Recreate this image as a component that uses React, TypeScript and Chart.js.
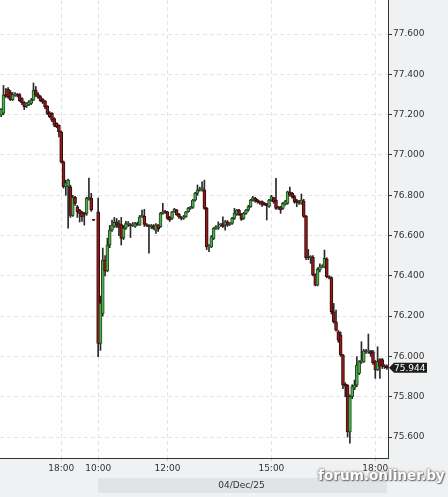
import React, { useEffect, useRef } from 'react';
import { Chart, registerables } from 'chart.js';
Chart.register(...registerables);

// 4-minute candles; index 41 is the overnight gap
const OPEN: (number | null)[] = [
  77.198, 77.207, 77.300, 77.326, 77.310, 77.274, 77.297, 77.300, 77.300, 77.280,
  77.260, 77.243, 77.248, 77.256, 77.272, 77.322, 77.300, 77.290, 77.276, 77.268,
  77.243, 77.209, 77.206, 77.180, 77.157, 77.148, 77.115, 76.966, 76.842, 76.842,
  76.842, 76.700, 76.790, 76.743, 76.727, 76.718, 76.710, 76.710, 76.780, 76.785,
  76.678, null,
  76.718, 76.065, 76.214, 76.478, 76.425, 76.553, 76.627, 76.645, 76.668, 76.660,
  76.655, 76.590, 76.636, 76.655, 76.652, 76.652, 76.645, 76.660, 76.652, 76.693,
  76.695, 76.655, 76.648, 76.645, 76.648, 76.625, 76.652, 76.644, 76.710, 76.718,
  76.718, 76.690, 76.685, 76.718, 76.728, 76.705, 76.690, 76.685, 76.693, 76.718,
  76.735, 76.740, 76.776, 76.809, 76.826, 76.826, 76.826, 76.735, 76.544, 76.544,
  76.586, 76.636, 76.636, 76.652, 76.660, 76.652, 76.668, 76.655, 76.660, 76.685,
  76.705, 76.727, 76.705, 76.685, 76.710, 76.727, 76.743, 76.776, 76.785, 76.776,
  76.768, 76.768, 76.760, 76.755, 76.745, 76.776, 76.788, 76.776, 76.740, 76.743,
  76.735, 76.755, 76.760,
  76.817, 76.810, 76.793, 76.773, 76.768, 76.760, 76.771, 76.697, 76.495, 76.492,
  76.492, 76.407, 76.354, 76.430, 76.445, 76.442, 76.483, 76.396, 76.392, 76.222,
  76.172, 76.122, 76.106, 76.007, 75.863, 75.858, 75.626, 75.800, 75.842, 75.858,
  75.916, 75.974, 75.974, 76.028, 76.023, 76.028, 76.023, 75.974, 75.933, 75.985,
  75.985, 75.954, 75.954,
];

const CLOSE: (number | null)[] = [
  77.226, 77.297, 77.292, 77.289, 77.274, 77.300, 77.302, 77.296, 77.270, 77.259,
  77.239, 77.257, 77.264, 77.272, 77.322, 77.297, 77.285, 77.270, 77.262, 77.239,
  77.206, 77.190, 77.173, 77.148, 77.140, 77.115, 76.966, 76.842, 76.862, 76.875,
  76.700, 76.790, 76.760, 76.718, 76.710, 76.693, 76.705, 76.785, 76.790, 76.727,
  76.676, null,
  76.065, 76.264, 76.478, 76.425, 76.553, 76.627, 76.652, 76.665, 76.652, 76.640,
  76.586, 76.636, 76.660, 76.662, 76.648, 76.655, 76.660, 76.655, 76.693, 76.700,
  76.655, 76.650, 76.644, 76.647, 76.635, 76.652, 76.632, 76.710, 76.718, 76.715,
  76.685, 76.676, 76.718, 76.730, 76.702, 76.693, 76.685, 76.693, 76.718, 76.735,
  76.740, 76.776, 76.809, 76.826, 76.830, 76.837, 76.735, 76.544, 76.548, 76.594,
  76.636, 76.644, 76.640, 76.655, 76.645, 76.668, 76.652, 76.660, 76.685, 76.710,
  76.727, 76.702, 76.680, 76.710, 76.727, 76.743, 76.776, 76.788, 76.772, 76.768,
  76.762, 76.751, 76.755, 76.748, 76.776, 76.793, 76.768, 76.735, 76.738, 76.727,
  76.760, 76.768, 76.817,
  76.800, 76.793, 76.768, 76.765, 76.764, 76.776, 76.695, 76.490, 76.490, 76.495,
  76.405, 76.354, 76.432, 76.445, 76.449, 76.487, 76.396, 76.392, 76.222, 76.172,
  76.131, 76.081, 76.007, 75.858, 75.853, 75.626, 75.800, 75.850, 75.858, 75.957,
  75.974, 75.982, 76.028, 76.023, 76.028, 76.015, 75.969, 75.933, 75.974, 75.950,
  75.955, 75.949, 75.944,
];

const HIGH: (number | null)[] = [
  77.230, 77.345, 77.330, 77.334, 77.320, 77.310, 77.310, 77.305, 77.305, 77.285,
  77.265, 77.260, 77.270, 77.280, 77.357, 77.340, 77.310, 77.295, 77.280, 77.270,
  77.245, 77.215, 77.210, 77.185, 77.160, 77.150, 77.120, 76.970, 76.875, 76.880,
  76.850, 76.800, 76.795, 76.750, 76.730, 76.720, 76.715, 76.790, 76.885, 76.810,
  76.680, null,
  76.786, 76.300, 76.538, 76.500, 76.587, 76.650, 76.677, 76.690, 76.685, 76.675,
  76.690, 76.650, 76.670, 76.670, 76.660, 76.665, 76.665, 76.667, 76.700, 76.727,
  76.730, 76.660, 76.655, 76.655, 76.655, 76.660, 76.655, 76.715, 76.760, 76.725,
  76.720, 76.695, 76.720, 76.735, 76.730, 76.710, 76.695, 76.700, 76.720, 76.740,
  76.745, 76.780, 76.815, 76.851, 76.840, 76.867, 76.875, 76.740, 76.555, 76.600,
  76.640, 76.650, 76.668, 76.660, 76.693, 76.675, 76.675, 76.665, 76.690, 76.735,
  76.730, 76.730, 76.710, 76.715, 76.730, 76.750, 76.780, 76.795, 76.790, 76.780,
  76.772, 76.772, 76.765, 76.760, 76.780, 76.800, 76.790, 76.884, 76.745, 76.745,
  76.765, 76.775, 76.820,
  76.840, 76.815, 76.800, 76.780, 76.775, 76.806, 76.780, 76.700, 76.531, 76.500,
  76.500, 76.410, 76.440, 76.460, 76.455, 76.528, 76.490, 76.400, 76.395, 76.263,
  76.230, 76.130, 76.122, 76.010, 75.870, 75.860, 75.810, 75.860, 75.883, 75.999,
  75.980, 76.073, 76.035, 76.035, 76.111, 76.030, 76.030, 75.980, 76.048, 75.990,
  75.990, 75.960, 75.958,
];

const LOW: (number | null)[] = [
  77.190, 77.200, 77.285, 77.280, 77.270, 77.270, 77.290, 77.288, 77.265, 77.250,
  77.225, 77.235, 77.245, 77.250, 77.270, 77.290, 77.280, 77.265, 77.255, 77.230,
  77.200, 77.185, 77.165, 77.140, 77.135, 77.090, 76.960, 76.835, 76.800, 76.637,
  76.690, 76.695, 76.750, 76.690, 76.667, 76.670, 76.652, 76.700, 76.775, 76.720,
  76.674, null,
  75.999, 76.030, 76.200, 76.400, 76.420, 76.540, 76.620, 76.640, 76.640, 76.600,
  76.553, 76.580, 76.630, 76.645, 76.590, 76.645, 76.640, 76.650, 76.650, 76.690,
  76.645, 76.645, 76.512, 76.635, 76.630, 76.610, 76.620, 76.640, 76.705, 76.710,
  76.680, 76.670, 76.680, 76.715, 76.700, 76.685, 76.677, 76.680, 76.690, 76.715,
  76.730, 76.735, 76.770, 76.800, 76.820, 76.820, 76.730, 76.530, 76.520, 76.540,
  76.580, 76.630, 76.630, 76.645, 76.640, 76.627, 76.645, 76.650, 76.655, 76.680,
  76.700, 76.700, 76.675, 76.680, 76.705, 76.720, 76.740, 76.770, 76.765, 76.760,
  76.755, 76.745, 76.750, 76.677, 76.740, 76.770, 76.760, 76.730, 76.730, 76.710,
  76.730, 76.750, 76.755,
  76.795, 76.785, 76.760, 76.743, 76.755, 76.755, 76.690, 76.480, 76.480, 76.462,
  76.400, 76.350, 76.350, 76.420, 76.440, 76.440, 76.390, 76.385, 76.210, 76.165,
  76.125, 76.070, 76.000, 75.840, 75.800, 75.600, 75.569, 75.790, 75.835, 75.850,
  75.910, 75.965, 75.970, 76.015, 76.015, 76.000, 75.960, 75.891, 75.930, 75.891,
  75.940, 75.940, 75.935,
];

const X_TICK_INDEX = [26, 42, 72, 117, 162];
const X_TICK_LABELS = ['18:00', '10:00', '12:00', '15:00', '18:00'];
const Y_TICKS = [75.6, 75.8, 76.0, 76.2, 76.4, 76.6, 76.8, 77.0, 77.2, 77.4, 77.6];
const Y_MIN = 75.496;
const Y_MAX = 77.769;
const LAST_PRICE = 75.944;
const DATE_LABEL = '04/Dec/25';
const WATERMARK = 'forum.onliner.by';

const FONT = "'DejaVu Sans', sans-serif";

export default function App() {
  const ref = useRef<HTMLCanvasElement | null>(null);

  useEffect(() => {
    document.body.style.margin = '0';
    const canvas = ref.current;
    if (!canvas) return;
    const labels = OPEN.map((_, i) => String(i));
    const up = OPEN.map((o, i) => o != null && (CLOSE[i] as number) >= o);

    const bgPlugin = {
      id: 'bg',
      beforeDraw(chart: any) {
        const { ctx, chartArea } = chart;
        ctx.save();
        ctx.fillStyle = '#f0f1f3';
        ctx.fillRect(0, 0, chart.width, chart.height);
        ctx.fillStyle = '#e2e3e6';
        ctx.fillRect(98, 478, 289, 15);
        ctx.fillStyle = '#ffffff';
        ctx.fillRect(chartArea.left, chartArea.top, chartArea.right - chartArea.left, chartArea.bottom - chartArea.top);
        ctx.restore();
      },
    };

    const pricePlugin = {
      id: 'lastPrice',
      afterDraw(chart: any) {
        const { ctx } = chart;
        const y = chart.scales.y.getPixelForValue(LAST_PRICE);
        const x0 = chart.chartArea.right + 1;
        ctx.save();
        ctx.fillStyle = '#1c1c1c';
        ctx.beginPath();
        ctx.moveTo(x0, y);
        ctx.lineTo(x0 + 5, y - 5);
        ctx.lineTo(x0 + 38, y - 5);
        ctx.lineTo(x0 + 38, y + 5);
        ctx.lineTo(x0 + 5, y + 5);
        ctx.closePath();
        ctx.fill();
        ctx.fillStyle = '#ffffff';
        ctx.font = `9px ${FONT}`;
        ctx.textBaseline = 'middle';
        ctx.textAlign = 'left';
        ctx.fillText(LAST_PRICE.toFixed(3), x0 + 5, y + 0.5);
        ctx.restore();
      },
    };

    const chart = new Chart(canvas, {
      type: 'bar',
      data: {
        labels,
        datasets: [
          {
            label: 'wick',
            data: LOW.map((l, i) => (l == null ? null : [l, HIGH[i] as number])) as any,
            backgroundColor: '#2a2a2a',
            borderWidth: 0,
            barThickness: 1,
            grouped: false,
            order: 1,
          },
          {
            label: 'body',
            data: OPEN.map((o, i) => (o == null ? null : [o, CLOSE[i] as number])) as any,
            backgroundColor: up.map((u) => (u ? '#4fae4f' : '#8e1c1c')),
            borderColor: up.map((u) => (u ? '#1f4a1f' : '#3a0808')),
            borderWidth: 1,
            borderSkipped: false,
            barThickness: 3,
            minBarLength: 1,
            grouped: false,
            order: 0,
          } as any,
        ],
      },
      options: {
        responsive: false,
        animation: false,
        devicePixelRatio: 1,
        layout: { padding: 0 },
        plugins: { legend: { display: false }, tooltip: { enabled: false } },
        scales: {
          x: {
            type: 'category',
            offset: true,
            afterBuildTicks: (s: any) => {
              s.ticks = X_TICK_INDEX.map((v) => ({ value: v }));
            },
            afterFit: (s: any) => {
              s.height = 39;
              s.paddingLeft = 0;
              s.paddingRight = 0;
            },
            ticks: {
              autoSkip: false,
              maxRotation: 0,
              minRotation: 0,
              padding: 2,
              color: '#333',
              font: { family: FONT, size: 9 },
              callback: (v: any) => X_TICK_LABELS[X_TICK_INDEX.indexOf(Number(v))] ?? '',
            },
            grid: { offset: false, color: '#e4e4e4', tickColor: '#cfcfcf', tickLength: 3, lineWidth: 1 },
            border: { color: '#333', width: 1, dash: [4, 3] },
          },
          y: {
            type: 'linear',
            position: 'right',
            min: Y_MIN,
            max: Y_MAX,
            afterBuildTicks: (s: any) => {
              s.ticks = Y_TICKS.map((v) => ({ value: v }));
            },
            afterFit: (s: any) => {
              s.width = 60;
              s.paddingTop = 0;
              s.paddingBottom = 0;
            },
            ticks: {
              padding: 1,
              color: '#333',
              font: { family: FONT, size: 9 },
              callback: (v: any) => Number(v).toFixed(3),
            },
            grid: { color: '#e4e4e4', tickColor: '#333', tickLength: 4, lineWidth: 1 },
            border: { color: '#333', width: 1, dash: [4, 3] },
          },
        },
      } as any,
      plugins: [bgPlugin, pricePlugin],
    });
    return () => chart.destroy();
  }, []);

  return (
    <div style={{ position: 'relative', width: 448, height: 497, overflow: 'hidden' }}>
      <canvas ref={ref} width={448} height={497} style={{ display: 'block' }} />
      <div
        style={{
          position: 'absolute',
          left: 98,
          width: 289,
          top: 478,
          height: 15,
          lineHeight: '15px',
          textAlign: 'center',
          fontFamily: FONT,
          fontSize: 9,
          color: '#333',
        }}
      >
        <span style={{ position: 'relative', left: -1 }}>{DATE_LABEL}</span>
      </div>
      <div
        style={{
          position: 'absolute',
          left: 318,
          top: 467,
          fontFamily: FONT,
          fontWeight: 'bold',
          fontSize: 13.6,
          color: '#ffffff',
          textShadow: '0 0 2px #777, 0 0 3px #888, 1px 1px 1px #666',
          whiteSpace: 'nowrap',
        }}
      >
        {WATERMARK}
      </div>
    </div>
  );
}
